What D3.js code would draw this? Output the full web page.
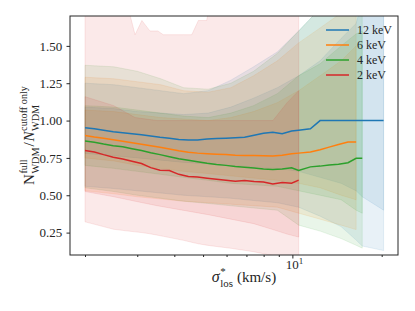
<!DOCTYPE html>
<html>
<head>
<meta charset="utf-8">
<script src="https://cdn.jsdelivr.net/npm/d3@7"></script>
<style>
  body { margin: 0; background: #fff; }
  svg text { font-family: "Liberation Serif", "Times New Roman", "DejaVu Serif", serif !important; fill: #262626; }
</style>
</head>
<body>
<svg id="chart"></svg>
<script>
// sigma*_los grid (km/s) for the median lines
const sigmaGrid = [2.0, 2.15, 2.31, 2.49, 2.68, 2.88, 3.10, 3.33, 3.58, 3.85, 4.14, 4.46, 4.79, 5.16, 5.55, 5.97,
  6.42, 6.90, 7.43, 7.99, 8.59, 9.24, 9.94, 10.5, 11.5, 12.4, 13.3, 14.3, 15.4, 16.4, 17.2, 19.2, 20.3];

const median12 = [0.952, 0.945, 0.935, 0.925, 0.918, 0.912, 0.905, 0.896, 0.888, 0.882, 0.874, 0.870, 0.870, 0.876,
  0.880, 0.882, 0.885, 0.888, 0.902, 0.915, 0.922, 0.912, 0.930, 0.935, 0.945, 1.00, 1.00, 1.00, 1.00, 1.00, 1.00, 1.00, 1.00];
const median6 = [0.900, 0.890, 0.882, 0.872, 0.862, 0.852, 0.842, 0.832, 0.822, 0.810, 0.798, 0.788, 0.782, 0.778,
  0.775, 0.772, 0.768, 0.766, 0.766, 0.765, 0.762, 0.768, 0.778, 0.782, 0.790, 0.805, 0.822, 0.840, 0.856, 0.856, null, null, null];
const median4 = [0.863, 0.855, 0.843, 0.832, 0.825, 0.812, 0.800, 0.785, 0.772, 0.758, 0.745, 0.735, 0.725, 0.714,
  0.706, 0.700, 0.692, 0.688, 0.682, 0.676, 0.672, 0.676, 0.684, 0.666, 0.690, 0.695, 0.702, 0.708, 0.718, 0.747, 0.747, null, null];
const median2 = [0.800, 0.790, 0.772, 0.755, 0.742, 0.728, 0.712, 0.685, 0.668, 0.666, 0.640, 0.626, 0.622, 0.614,
  0.607, 0.600, 0.594, 0.598, 0.592, 0.589, 0.575, 0.586, 0.580, 0.601, null, null, null, null, null, null, null, null, null];

// percentile bands (inner = 1, outer = 2)
const bandGrid = [2.0, 2.5, 3.0, 3.6, 4.3, 5.2, 6.2, 7.4, 8.9, 10.5, 12.4, 14.6, 16.4, 17.2, 20.3];

const hi2_12 = [1.25, 1.24, 1.22, 1.20, 1.18, 1.20, 1.27, 1.36, 1.46, 1.60, 1.75, 1.8, 1.8, 1.8, 1.8];
const hi1_12 = [1.09, 1.08, 1.06, 1.05, 1.04, 1.05, 1.09, 1.15, 1.22, 1.30, 1.40, 1.55, 1.65, 1.8, 1.8];
const lo1_12 = [0.78, 0.765, 0.75, 0.735, 0.72, 0.71, 0.70, 0.69, 0.68, 0.66, 0.62, 0.58, 0.53, 0.49, 0.40];
const lo2_12 = [0.56, 0.545, 0.53, 0.515, 0.50, 0.49, 0.48, 0.465, 0.45, 0.42, 0.36, 0.29, 0.20, 0.16, 0.13];

const hi2_6 = [1.29, 1.28, 1.26, 1.24, 1.20, 1.19, 1.22, 1.30, 1.40, 1.52, 1.62, 1.72, 1.8, null, null];
const hi1_6 = [1.07, 1.06, 1.04, 1.02, 1.01, 1.00, 1.02, 1.06, 1.12, 1.20, 1.30, 1.40, 1.50, null, null];
const lo1_6 = [0.75, 0.73, 0.70, 0.68, 0.66, 0.645, 0.63, 0.615, 0.60, 0.58, 0.55, 0.50, 0.47, null, null];
const lo2_6 = [0.53, 0.51, 0.49, 0.475, 0.46, 0.45, 0.44, 0.43, 0.42, 0.38, 0.34, 0.30, 0.27, null, null];

const hi2_4 = [1.37, 1.36, 1.33, 1.28, 1.22, 1.21, 1.25, 1.33, 1.45, 1.60, 1.75, 1.8, 1.8, 1.8, null];
const hi1_4 = [1.10, 1.09, 1.07, 1.05, 1.03, 1.02, 1.05, 1.10, 1.18, 1.30, 1.38, 1.50, 1.58, 1.60, null];
const lo1_4 = [0.70, 0.68, 0.66, 0.64, 0.62, 0.60, 0.58, 0.57, 0.56, 0.53, 0.50, 0.47, 0.40, 0.38, null];
const lo2_4 = [0.55, 0.525, 0.50, 0.48, 0.46, 0.445, 0.43, 0.415, 0.40, 0.30, 0.26, 0.21, 0.165, 0.146, null];

// 2 keV has its own grids (notch in the upper edge)
const outerGrid2 = [2.0, 2.5, 2.80, 2.95, 3.11, 3.31, 3.52, 3.67, 4.3, 4.58, 4.82, 5.14, 5.3, 6.2, 7.4, 8.9, 10.5];
const hi2_2 = [1.8, 1.8, 1.75, 1.575, 1.67, 1.60, 1.60, 1.575, 1.575, 1.575, 1.67, 1.67, 1.8, 1.8, 1.8, 1.8, 1.8];
const lo2_2 = [0.322, 0.272, 0.26, 0.255, 0.25, 0.242, 0.232, 0.225, 0.198, 0.185, 0.175, 0.166, 0.162, 0.145, 0.122, 0.09, 0.06];
const innerGrid2 = [2.0, 2.5, 2.95, 3.5, 5.2, 7.4, 8.6, 9.6, 10.5];
const hi1_2 = [1.16, 1.10, 1.02, 1.0, 1.0, 1.0, 1.0, 1.12, 1.2];
const lo1_2 = [0.525, 0.49, 0.46, 0.43, 0.37, 0.31, 0.27, 0.24, 0.22];

const seriesNames = ['12 keV', '6 keV', '4 keV', '2 keV'];
const seriesColours = ['#1f77b4', '#ff7f0e', '#2ca02c', '#d62728'];
const yTicks = [0.25, 0.50, 0.75, 1.00, 1.25, 1.50];
const xMinorTicks = [2, 3, 4, 5, 6, 7, 8, 9, 20];
const xMajorTicks = [10];

const serif = '"Liberation Serif", "Times New Roman", serif';

var margin = {top: 16, right: 17, bottom: 56, left: 70};
var svgWidth = 415;
var svgHeight = 311;
let chartWidth = svgWidth - margin.left - margin.right;
let chartHeight = svgHeight - margin.top - margin.bottom;

var svg = d3.select('#chart').attr('width', svgWidth).attr('height', svgHeight)
  .attr('font-family', serif);
var chart = svg.append('g').attr('transform', `translate(${margin.left}, ${margin.top})`);

var xScale = d3.scaleLog().domain([1.78, 22.7]).range([0, chartWidth]);
var yScale = d3.scaleLinear().domain([0.10, 1.70]).range([chartHeight, 0]);

svg.append('defs').append('clipPath').attr('id', 'plot-clip')
  .append('rect').attr('width', chartWidth).attr('height', chartHeight);

var plot = chart.append('g').attr('clip-path', 'url(#plot-clip)');

function zipBand(xs, lo, hi) {
  return xs.map((x, i) => ({x: x, lo: lo[i], hi: hi[i]}));
}

var bandArea = d3.area()
  .defined(d => d.lo != null && d.hi != null)
  .x(d => xScale(d.x))
  .y0(d => yScale(d.lo))
  .y1(d => yScale(d.hi));

var bands = [
  {colour: seriesColours[0], data: zipBand(bandGrid, lo2_12, hi2_12)},
  {colour: seriesColours[0], data: zipBand(bandGrid, lo1_12, hi1_12)},
  {colour: seriesColours[1], data: zipBand(bandGrid, lo2_6, hi2_6)},
  {colour: seriesColours[1], data: zipBand(bandGrid, lo1_6, hi1_6)},
  {colour: seriesColours[2], data: zipBand(bandGrid, lo2_4, hi2_4)},
  {colour: seriesColours[2], data: zipBand(bandGrid, lo1_4, hi1_4)},
  {colour: seriesColours[3], data: zipBand(outerGrid2, lo2_2, hi2_2)},
  {colour: seriesColours[3], data: zipBand(innerGrid2, lo1_2, hi1_2)}
];

bands.forEach(b => {
  plot.append('path')
    .datum(b.data)
    .attr('d', bandArea)
    .attr('fill', b.colour)
    .attr('fill-opacity', 0.1)
    .attr('stroke', b.colour)
    .attr('stroke-opacity', 0.1)
    .attr('stroke-width', 1);
});

// median lines
var medians = [median12, median6, median4, median2];
var valueline = d3.line()
  .defined(d => d.v != null)
  .x(d => xScale(d.x))
  .y(d => yScale(d.v));

medians.forEach((m, i) => {
  plot.append('path')
    .datum(sigmaGrid.map((x, j) => ({x: x, v: m[j]})))
    .attr('d', valueline)
    .attr('fill', 'none')
    .attr('stroke', seriesColours[i])
    .attr('stroke-width', 1.5);
});

// axes
var yAxis = chart.append('g')
  .call(d3.axisLeft(yScale).tickValues(yTicks).tickFormat(d3.format('.2f')).tickSize(3.5).tickSizeOuter(0))
  .attr('font-family', serif).attr('font-size', 13);
yAxis.select('.domain').remove();
yAxis.selectAll('text').attr('fill', '#262626').attr('dx', '-0.1em');
yAxis.selectAll('line').attr('stroke', '#262626');

var xMinor = chart.append('g').attr('transform', `translate(0, ${chartHeight})`)
  .call(d3.axisBottom(xScale).tickValues(xMinorTicks).tickFormat('').tickSize(2).tickSizeOuter(0));
xMinor.select('.domain').remove();
xMinor.selectAll('line').attr('stroke', '#262626');

var xMajor = chart.append('g').attr('transform', `translate(0, ${chartHeight})`)
  .call(d3.axisBottom(xScale).tickValues(xMajorTicks).tickFormat('').tickSize(3.5).tickSizeOuter(0));
xMajor.select('.domain').remove();
xMajor.selectAll('line').attr('stroke', '#262626');

// 10^1 label
var tenLabel = chart.append('text')
  .attr('x', xScale(10) + 2).attr('y', chartHeight + 14)
  .attr('text-anchor', 'middle').attr('font-size', 13);
tenLabel.append('tspan').text('10');
tenLabel.append('tspan').attr('font-size', 9).attr('dy', -5).text('1');

// frame
chart.append('rect')
  .attr('width', chartWidth).attr('height', chartHeight)
  .attr('fill', 'none').attr('stroke', '#262626').attr('stroke-width', 1);

// helper: symbol with stacked super/subscripts, returns next x
function scripted(g, x, base, sup, sub, italic, size) {
  let t = g.append('text').attr('x', x).attr('y', 0).attr('font-size', size).text(base);
  if (italic) t.attr('font-style', 'italic');
  let w = t.node().getComputedTextLength();
  let small = size * 0.68;
  let w2 = 0, w3 = 0;
  if (sup) {
    let s = g.append('text').attr('x', x + w + 0.5).attr('y', -size * 0.45).attr('font-size', small).text(sup);
    w2 = s.node().getComputedTextLength();
  }
  if (sub) {
    let s = g.append('text').attr('x', x + w + 0.5).attr('y', size * 0.3).attr('font-size', small).text(sub);
    w3 = s.node().getComputedTextLength();
  }
  return x + w + 0.5 + Math.max(w2, w3);
}

// y label
var yLab = svg.append('g');
var yInner = yLab.append('g');
let px = scripted(yInner, 0, 'N', 'full', 'WDM', false, 15);
let slash = yInner.append('text').attr('x', px + 1).attr('y', 0).attr('font-size', 15).text('/');
px = px + 1 + slash.node().getComputedTextLength() + 1;
px = scripted(yInner, px, 'N', 'cutoff only', 'WDM', true, 15);
yInner.attr('transform', `translate(${-px / 2}, 0)`);
yLab.attr('transform', `translate(34, ${margin.top + chartHeight / 2}) rotate(-90)`);

// x label
var xLab = svg.append('g');
var xInner = xLab.append('g');
let qx = scripted(xInner, 0, 'σ', '*', 'los', true, 16);
let rest = xInner.append('text').attr('x', qx + 4).attr('y', 0).attr('font-size', 15).text('(km/s)');
qx = qx + 4 + rest.node().getComputedTextLength();
xInner.attr('transform', `translate(${-qx / 2}, 0)`);
xLab.attr('transform', `translate(${margin.left + chartWidth / 2 + 10}, 282)`);

// legend
var legend = chart.append('g').attr('transform', `translate(${chartWidth - 72}, 14)`);
seriesNames.forEach((name, i) => {
  let row = legend.append('g').attr('transform', `translate(0, ${i * 15})`);
  row.append('line').attr('x1', 0).attr('x2', 23).attr('y1', 0).attr('y2', 0)
    .attr('stroke', seriesColours[i]).attr('stroke-width', 1.5);
  row.append('text').attr('x', 31).attr('y', 4).attr('font-size', 12).text(name);
});
</script>
</body>
</html>
